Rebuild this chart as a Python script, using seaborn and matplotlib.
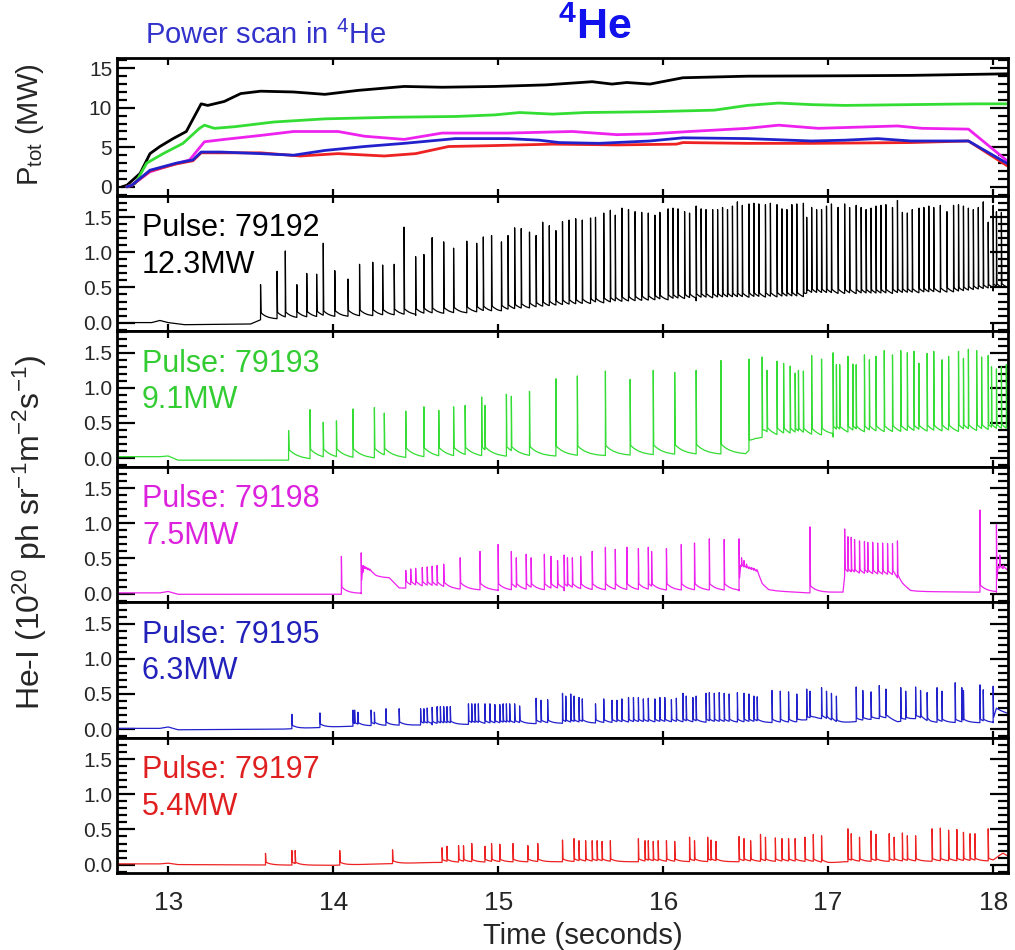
import numpy as np
import pandas as pd
import matplotlib
matplotlib.use("Agg")
import matplotlib.pyplot as plt
import seaborn as sns
from matplotlib.ticker import MultipleLocator, FormatStrFormatter

# ---------------- DATA ----------------
# Top panel: total heating power P_tot (MW)
ptot_black_t = [12.72, 12.75, 12.83, 12.89, 12.95, 13.03, 13.11, 13.20, 13.24, 13.34, 13.44, 13.56, 13.76, 13.95,
                14.15, 14.43, 14.66, 14.98, 15.29, 15.57, 15.69, 15.78, 15.92, 16.12, 16.51, 17.10, 17.50, 18.09]
ptot_black_v = [0.0, 0.2, 1.7, 4.2, 5.1, 6.1, 7.0, 10.5, 10.3, 10.8, 11.8, 12.1, 12.0, 11.7,
                12.2, 12.7, 12.6, 12.7, 12.9, 13.3, 13.0, 13.2, 13.0, 13.8, 14.0, 14.05, 14.1, 14.3]
ptot_green_t = [12.75, 12.80, 12.87, 12.97, 13.09, 13.19, 13.22, 13.28, 13.40, 13.64, 13.95, 14.35, 14.74, 14.98,
                15.13, 15.33, 15.53, 15.92, 16.31, 16.51, 16.70, 16.90, 17.10, 17.50, 17.89, 18.09]
ptot_green_v = [0.0, 0.4, 3.0, 4.2, 5.5, 7.4, 7.8, 7.4, 7.6, 8.2, 8.6, 8.8, 8.9, 9.1,
                9.4, 9.2, 9.4, 9.5, 9.7, 10.3, 10.6, 10.4, 10.3, 10.4, 10.5, 10.5]
ptot_magenta_t = [12.75, 12.78, 12.89, 13.01, 13.13, 13.22, 13.34, 13.56, 13.76, 14.03, 14.19, 14.43, 14.66, 15.06,
                  15.45, 15.72, 15.92, 16.16, 16.51, 16.70, 16.94, 17.42, 17.57, 17.85, 18.09]
ptot_magenta_v = [0.0, 0.2, 1.9, 2.7, 3.4, 5.7, 6.0, 6.5, 7.0, 7.0, 6.4, 6.0, 6.8, 6.8,
                  7.0, 6.6, 6.7, 7.0, 7.4, 7.8, 7.4, 7.7, 7.4, 7.3, 3.2]
ptot_blue_t = [12.75, 12.78, 12.89, 13.05, 13.15, 13.20, 13.32, 13.56, 13.76, 13.95, 14.19, 14.43, 14.74, 15.06,
               15.25, 15.37, 15.61, 15.92, 16.12, 16.51, 16.90, 17.10, 17.30, 17.50, 17.85, 18.09]
ptot_blue_v = [0.0, 0.2, 2.1, 3.0, 3.4, 4.4, 4.4, 4.2, 4.0, 4.6, 5.1, 5.5, 6.1, 6.1,
               5.9, 5.6, 5.5, 5.8, 6.2, 6.1, 5.8, 5.9, 6.1, 5.8, 5.8, 2.9]
ptot_red_t = [12.75, 12.78, 12.89, 13.05, 13.15, 13.20, 13.56, 13.80, 14.03, 14.31, 14.50, 14.70, 14.94, 15.33,
              15.72, 16.08, 16.12, 16.51, 16.90, 17.50, 17.85, 18.09]
ptot_red_v = [0.0, 0.2, 2.0, 2.9, 3.3, 4.3, 4.3, 3.9, 4.2, 3.9, 4.2, 5.1, 5.2, 5.4,
              5.3, 5.4, 5.6, 5.5, 5.5, 5.6, 5.8, 2.6]

# He-I panels: baseline knots and ELM spike (time, peak) readings, 10^20 ph sr^-1 m^-2 s^-1
pulses = ["79192", "79193", "79198", "79195", "79197"]
powers = ["12.3MW", "9.1MW", "7.5MW", "6.3MW", "5.4MW"]

black_base_t = [12.69, 12.90, 12.95, 13.00, 13.10, 13.50, 13.56, 14.00, 14.50, 15.00, 15.40, 15.80, 16.20, 16.80,
                16.86, 16.88, 17.30, 17.80, 18.00, 18.09]
black_base_v = [0.0, 0.0, 0.03, 0.0, -0.03, -0.02, 0.04, 0.07, 0.10, 0.14, 0.22, 0.27, 0.31, 0.33,
                0.33, 0.38, 0.37, 0.40, 0.45, 0.46]
black_spike_t = [13.56, 13.66, 13.71, 13.78, 13.84, 13.90, 13.94, 14.01, 14.09, 14.16, 14.24, 14.30, 14.37, 14.43,
                 14.50, 14.55, 14.60, 14.67, 14.73, 14.81, 14.87, 14.91, 14.96, 15.02, 15.06, 15.10, 15.14, 15.19,
                 15.23, 15.27, 15.31, 15.35, 15.39,
                 15.43, 15.47, 15.51, 15.56, 15.59, 15.64, 15.68, 15.71, 15.75, 15.79, 15.83, 15.87, 15.91, 15.95,
                 15.98, 16.03, 16.06, 16.09, 16.13, 16.16, 16.20, 16.23, 16.26, 16.30, 16.33, 16.36, 16.39, 16.42,
                 16.45, 16.48, 16.52, 16.55, 16.58, 16.62, 16.65, 16.69, 16.72, 16.75, 16.78, 16.81, 16.85, 16.87,
                 16.90, 16.93, 16.96, 16.99, 17.02, 17.06, 17.10, 17.13, 17.17, 17.20, 17.23, 17.26, 17.29, 17.32,
                 17.35, 17.39, 17.42, 17.45, 17.48, 17.51, 17.55, 17.58, 17.61, 17.64, 17.68, 17.72, 17.76, 17.79,
                 17.82, 17.85, 17.88, 17.91, 17.94, 17.97, 18.00, 18.02, 18.05]
black_spike_v = [0.54, 0.73, 1.02, 0.54, 0.70, 0.69, 1.13, 0.74, 0.62, 0.83, 0.86, 0.82, 0.83, 1.36,
                 0.94, 0.97, 1.21, 1.15, 1.06, 1.16, 1.13, 1.22, 1.24, 1.15, 1.24, 1.35, 1.34, 1.29,
                 1.24, 1.43, 1.38, 1.31, 1.44,
                 1.46, 1.48, 1.46, 1.49, 1.50, 1.56, 1.60, 1.53, 1.63, 1.61, 1.58, 1.57, 1.56, 1.53,
                 1.57, 1.62, 1.63, 1.62, 1.58, 1.56, 1.66, 1.62, 1.61, 1.61, 1.61, 1.64, 1.61, 1.66,
                 1.72, 1.67, 1.69, 1.70, 1.69, 1.68, 1.70, 1.68, 1.62, 1.61, 1.68, 1.69, 1.70, 1.50,
                 1.64, 1.61, 1.61, 1.66, 1.69, 1.64, 1.69, 1.64, 1.67, 1.64, 1.61, 1.63, 1.66, 1.67,
                 1.68, 1.64, 1.74, 1.57, 1.56, 1.61, 1.63, 1.64, 1.66, 1.64, 1.67, 1.58, 1.67, 1.68,
                 1.66, 1.63, 1.61, 1.64, 1.72, 1.43, 1.67, 1.58, 1.57]

green_base_t = [12.69, 12.95, 13.00, 13.06, 13.70, 15.40, 16.50, 16.56, 16.62, 16.95, 17.03, 18.09]
green_base_v = [0.02, 0.02, 0.03, -0.03, -0.03, 0.02, 0.05, 0.20, 0.28, 0.27, 0.30, 0.33]
green_spike_t = [13.73, 13.86, 13.94, 14.02, 14.12, 14.25, 14.31, 14.44, 14.55, 14.64, 14.73, 14.80, 14.90, 14.92,
                 15.05, 15.08, 15.19, 15.35, 15.48, 15.65, 15.80, 15.94, 16.07, 16.20, 16.35, 16.52, 16.60, 16.63,
                 16.69, 16.73, 16.77, 16.80, 16.82, 16.85, 16.90, 16.96, 17.03, 17.05, 17.07, 17.12, 17.15, 17.17,
                 17.22, 17.25, 17.29, 17.34, 17.39, 17.44, 17.48, 17.52, 17.55, 17.60, 17.64, 17.69, 17.73, 17.79,
                 17.82, 17.85, 17.90, 17.93, 17.97, 17.99, 18.02, 18.05, 18.08]
green_spike_v = [0.39, 0.69, 0.51, 0.53, 0.70, 0.72, 0.64, 0.67, 0.73, 0.68, 0.73, 0.75, 0.87, 0.75,
                 0.91, 0.88, 0.95, 1.13, 1.17, 1.24, 1.12, 1.25, 1.22, 1.25, 1.39, 1.41, 1.44, 1.25,
                 1.38, 1.35, 1.31, 1.21, 1.25, 1.24, 1.46, 1.41, 1.50, 1.33, 1.33, 1.45, 1.34, 1.33,
                 1.47, 1.40, 1.45, 1.53, 1.47, 1.53, 1.50, 1.52, 1.35, 1.49, 1.52, 1.40, 1.45, 1.52,
                 1.42, 1.55, 1.53, 1.44, 1.46, 1.30, 1.27, 1.30, 1.33]

magenta_base_t = [12.69, 12.95, 13.00, 13.06, 14.04, 14.17, 14.18, 14.23, 14.26, 14.34, 14.40, 14.70, 15.00, 15.40,
                  16.46, 16.47, 16.57, 16.60, 16.64, 16.88, 17.09, 17.10, 17.40, 17.45, 17.50, 17.91, 18.02, 18.03,
                  18.09]
magenta_base_v = [0.01, 0.01, 0.03, -0.01, -0.01, 0.0, 0.30, 0.24, 0.22, 0.22, 0.08, 0.06, 0.04, 0.04,
                  0.04, 0.32, 0.24, 0.10, 0.04, 0.01, 0.02, 0.25, 0.22, 0.10, 0.03, 0.02, 0.02, 0.30,
                  0.28]
magenta_spike_t = [14.05, 14.17, 14.18, 14.19, 14.20, 14.21, 14.22, 14.44, 14.47, 14.50, 14.54, 14.57, 14.60, 14.63,
                   14.67, 14.77, 14.89, 15.00, 15.08, 15.11, 15.17, 15.20, 15.28, 15.32, 15.36, 15.40, 15.42, 15.45,
                   15.50, 15.57, 15.65, 15.71, 15.78, 15.85, 15.91, 15.93, 16.02, 16.11, 16.19, 16.28, 16.37, 16.46,
                   16.475, 16.49, 16.505, 16.52, 16.535, 16.55, 16.565, 16.89, 17.10, 17.12, 17.14, 17.16, 17.19,
                   17.22, 17.24, 17.27, 17.30, 17.33, 17.36, 17.39, 17.42, 17.92, 18.02, 18.04, 18.06]
magenta_spike_v = [0.53, 0.58, 0.40, 0.36, 0.35, 0.34, 0.33, 0.33, 0.35, 0.36, 0.37, 0.38, 0.39, 0.40,
                   0.42, 0.51, 0.60, 0.70, 0.60, 0.51, 0.56, 0.51, 0.56, 0.53, 0.47, 0.55, 0.51, 0.51,
                   0.53, 0.60, 0.66, 0.63, 0.66, 0.64, 0.66, 0.60, 0.64, 0.70, 0.72, 0.78, 0.77, 0.78,
                   0.51, 0.47, 0.42, 0.38, 0.37, 0.36, 0.33, 0.95, 0.92, 0.81, 0.80, 0.77, 0.75,
                   0.74, 0.73, 0.73, 0.72, 0.72, 0.71, 0.71, 0.75, 1.19, 0.98, 0.55, 0.40]

blue_base_t = [12.69, 12.95, 13.00, 13.06, 13.70, 14.10, 14.60, 15.00, 15.40, 16.00, 16.80, 16.92, 16.98, 17.06,
               17.36, 17.42, 17.55, 17.62, 18.00, 18.02, 18.09]
blue_base_v = [0.01, 0.01, 0.03, -0.01, 0.0, 0.04, 0.06, 0.07, 0.08, 0.09, 0.09, 0.15, 0.14, 0.08,
               0.15, 0.10, 0.15, 0.09, 0.09, 0.27, 0.22]
blue_spike_t = [13.75, 13.92, 14.12, 14.13, 14.15, 14.23, 14.25, 14.32, 14.40, 14.53, 14.55, 14.57, 14.60, 14.63,
                14.65, 14.67, 14.69, 14.71, 14.82, 14.84, 14.86, 14.88, 14.92, 14.95, 14.98, 15.01, 15.03, 15.05,
                15.07, 15.10, 15.13, 15.23, 15.26, 15.30, 15.39, 15.41, 15.44, 15.46, 15.49, 15.51, 15.59, 15.64,
                15.69, 15.72, 15.75, 15.79, 15.82, 15.85, 15.88, 15.91, 15.95, 15.98, 16.01, 16.05, 16.08, 16.12,
                16.14, 16.18, 16.20, 16.26, 16.28, 16.31, 16.34, 16.37, 16.40, 16.45, 16.49, 16.52, 16.55, 16.57,
                16.66, 16.71, 16.76, 16.81, 16.87, 16.89, 16.96, 16.99, 17.02, 17.05, 17.17, 17.21, 17.26, 17.31,
                17.35, 17.44, 17.47, 17.53, 17.56, 17.60, 17.66, 17.69, 17.77, 17.81, 17.82, 17.92, 17.94, 18.00]
blue_spike_v = [0.21, 0.23, 0.27, 0.27, 0.24, 0.27, 0.24, 0.29, 0.29, 0.29, 0.29, 0.30, 0.31, 0.32,
                0.32, 0.32, 0.32, 0.32, 0.36, 0.36, 0.36, 0.36, 0.36, 0.36, 0.35, 0.35, 0.36, 0.36,
                0.36, 0.36, 0.33, 0.44, 0.41, 0.42, 0.51, 0.47, 0.50, 0.47, 0.45, 0.43, 0.36, 0.43,
                0.41, 0.41, 0.43, 0.45, 0.45, 0.45, 0.43, 0.44, 0.43, 0.45, 0.45, 0.42, 0.44, 0.51,
                0.47, 0.45, 0.47, 0.51, 0.52, 0.51, 0.52, 0.51, 0.50, 0.52, 0.51, 0.50, 0.47, 0.46,
                0.55, 0.54, 0.53, 0.50, 0.57, 0.54, 0.59, 0.54, 0.51, 0.47, 0.60, 0.55, 0.53, 0.62,
                0.57, 0.59, 0.54, 0.60, 0.55, 0.52, 0.59, 0.54, 0.66, 0.59, 0.55, 0.63, 0.56, 0.61]

red_base_t = [12.69, 12.95, 13.00, 13.06, 14.00, 14.60, 15.40, 16.00, 16.90, 17.00, 17.10, 18.00, 18.04, 18.06, 18.09]
red_base_v = [0.01, 0.01, 0.02, 0.0, -0.01, 0.03, 0.04, 0.04, 0.04, 0.02, 0.04, 0.05, 0.13, 0.16, 0.12]
red_spike_t = [13.59, 13.75, 13.77, 14.04, 14.36, 14.66, 14.69, 14.76, 14.79, 14.84, 14.92, 14.96, 15.01, 15.09,
               15.18, 15.24, 15.39, 15.46, 15.49, 15.53, 15.57, 15.60, 15.63, 15.68, 15.85, 15.89, 15.91, 15.94,
               15.97, 16.02, 16.07, 16.16, 16.19, 16.27, 16.29, 16.32, 16.46, 16.49, 16.53, 16.59, 16.62, 16.68,
               16.72, 16.76, 16.80, 16.86, 16.91, 16.96, 17.12, 17.14, 17.19, 17.26, 17.29, 17.37, 17.40, 17.45,
               17.48, 17.53, 17.63, 17.68, 17.73, 17.78, 17.82, 17.86, 17.89, 17.97]
red_spike_v = [0.16, 0.20, 0.20, 0.20, 0.21, 0.24, 0.26, 0.27, 0.27, 0.30, 0.26, 0.30, 0.29, 0.30,
               0.27, 0.30, 0.35, 0.37, 0.34, 0.34, 0.34, 0.34, 0.33, 0.34, 0.37, 0.34, 0.34, 0.33,
               0.34, 0.34, 0.33, 0.39, 0.34, 0.39, 0.35, 0.33, 0.40, 0.37, 0.34, 0.43, 0.39, 0.38,
               0.37, 0.37, 0.37, 0.39, 0.43, 0.41, 0.51, 0.44, 0.39, 0.48, 0.43, 0.44, 0.39, 0.45,
               0.41, 0.41, 0.51, 0.52, 0.49, 0.50, 0.46, 0.44, 0.44, 0.51]

# ---------------- STYLE ----------------
sns.set_style("ticks")
FONT = ['Liberation Sans', 'DejaVu Sans']
plt.rcParams['font.family'] = FONT
plt.rcParams['mathtext.fontset'] = 'custom'
plt.rcParams['mathtext.rm'] = 'Liberation Sans'
plt.rcParams['mathtext.it'] = 'Liberation Sans:italic'
plt.rcParams['mathtext.bf'] = 'Liberation Sans:bold'

C_BLACK, C_GREEN, C_MAG, C_BLUE, C_RED = '#000000', '#33dd33', '#ee22ee', '#2222cc', '#ee2222'
T_GREEN, T_MAG, T_BLUE, T_RED = '#33cc33', '#dd22dd', '#2222bb', '#e02020'

XMIN, XMAX = 12.69, 18.09


def build_trace(base_t, base_v, sp_t, sp_v, after, tau):
    """Polyline of an ELMy He-I trace: base level, vertical spikes to the read peaks, then decay."""
    sp_t = np.asarray(sp_t, float)
    sp_v = np.asarray(sp_v, float)
    grid = set(base_t)
    for i, ts in enumerate(sp_t):
        nxt = sp_t[i + 1] if i + 1 < len(sp_t) else XMAX + 0.1
        grid.add(ts - 1e-4)
        for d in (0.003, 0.008, 0.015, 0.03, 0.05, 0.08, 0.12, 0.18, 0.25):
            if ts + d < nxt - 2e-4:
                grid.add(ts + d)
    pts = []
    for t in sorted(grid):
        b = np.interp(t, base_t, base_v)
        k = np.searchsorted(sp_t, t, side='right') - 1
        ex = 0.0
        if k >= 0 and t >= sp_t[k] + 0.003:
            ex = after * np.exp(-(t - sp_t[k] - 0.003) / tau)
        pts.append((t, b + ex))
    for ts, pv in zip(sp_t, sp_v):
        pts.append((ts, pv))
    pts.sort(key=lambda p: p[0])
    df = pd.DataFrame(pts, columns=['t', 'v'])
    return df[(df.t >= XMIN) & (df.t <= XMAX)]


fig, axes = plt.subplots(6, 1, figsize=(10.15, 9.5), dpi=100, sharex=True,
                         gridspec_kw=dict(hspace=0, height_ratios=[137, 135, 135, 135, 135, 135]))
fig.subplots_adjust(left=117 / 1015, right=1008 / 1015, top=1 - 58 / 950, bottom=1 - 873 / 950)

# ---- top panel ----
ax0 = axes[0]
for tt, vv, c in [(ptot_black_t, ptot_black_v, C_BLACK), (ptot_green_t, ptot_green_v, C_GREEN),
                  (ptot_magenta_t, ptot_magenta_v, C_MAG), (ptot_red_t, ptot_red_v, C_RED),
                  (ptot_blue_t, ptot_blue_v, C_BLUE)]:
    sns.lineplot(x=tt, y=vv, ax=ax0, color=c, lw=2.0, estimator=None, sort=False)
ax0.set_ylim(-1.1, 16.3)
ax0.yaxis.set_major_locator(MultipleLocator(5))
ax0.yaxis.set_minor_locator(MultipleLocator(1))

# ---- He-I panels ----
panel_data = [
    (black_base_t, black_base_v, black_spike_t, black_spike_v, C_BLACK, C_BLACK, 0.10, 0.04),
    (green_base_t, green_base_v, green_spike_t, green_spike_v, C_GREEN, T_GREEN, 0.15, 0.06),
    (magenta_base_t, magenta_base_v, magenta_spike_t, magenta_spike_v, C_MAG, T_MAG, 0.10, 0.04),
    (blue_base_t, blue_base_v, blue_spike_t, blue_spike_v, C_BLUE, T_BLUE, 0.05, 0.03),
    (red_base_t, red_base_v, red_spike_t, red_spike_v, C_RED, T_RED, 0.04, 0.03),
]
for ax, (bt, bv, st, sv, lc, tc, after, tau), pulse, pw in zip(axes[1:], panel_data, pulses, powers):
    df = build_trace(bt, bv, st, sv, after, tau)
    sns.lineplot(data=df, x='t', y='v', ax=ax, color=lc, lw=0.9, estimator=None, sort=False)
    ax.set_ylim(-0.12, 1.81)
    ax.yaxis.set_major_locator(MultipleLocator(0.5))
    ax.yaxis.set_minor_locator(MultipleLocator(0.1))
    ax.yaxis.set_major_formatter(FormatStrFormatter('%.1f'))
    ax.text(0.028, 0.76, f"Pulse: {pulse}", transform=ax.transAxes, color=tc, fontsize=22,
            ha='left', va='center', family=FONT)
    ax.text(0.028, 0.49, pw, transform=ax.transAxes, color=tc, fontsize=22,
            ha='left', va='center', family=FONT)

for ax in axes:
    ax.set_xlim(XMIN, XMAX)
    ax.set_xlabel('')
    ax.set_ylabel('')
    for s in ax.spines.values():
        s.set_linewidth(2.0)
        s.set_color('black')
    ax.tick_params(which='both', direction='in', top=True, right=True, width=1.6, color='black')
    ax.tick_params(axis='y', which='major', length=13, labelsize=15)
    ax.tick_params(axis='y', which='minor', length=7)
    ax.tick_params(axis='x', which='major', length=5, labelsize=19, pad=13)

axes[-1].set_xticks([13, 14, 15, 16, 17, 18])
axes[-1].set_xticklabels(['13', '14', '15', '16', '17', '18'], fontsize=19)
axes[-1].set_xlabel('Time (seconds)', fontsize=21, labelpad=8)
axes[-1].xaxis.set_label_coords((583 - 117) / 891, -0.36)

fig.text(30 / 1015, 1 - 125 / 950, r'P$_{\rm tot}$ (MW)', rotation=90, ha='center', va='center',
         fontsize=21)
fig.text(30 / 1015, 1 - 532 / 950, r'He-I (10$^{20}$ ph sr$^{-1}$m$^{-2}$s$^{-1}$)', rotation=90,
         ha='center', va='center', fontsize=23)
fig.text(145 / 1015, 1 - 35 / 950, r'Power scan in $^{4}$He', ha='left', va='center', fontsize=21,
         color='#3333cc')
fig.text(595 / 1015, 1 - 28 / 950, r'$^{\mathbf{4}}\mathbf{He}$', ha='center', va='center', fontsize=31,
         color='#1111ee', fontweight='bold')

fig.savefig('out.png', dpi=100)
